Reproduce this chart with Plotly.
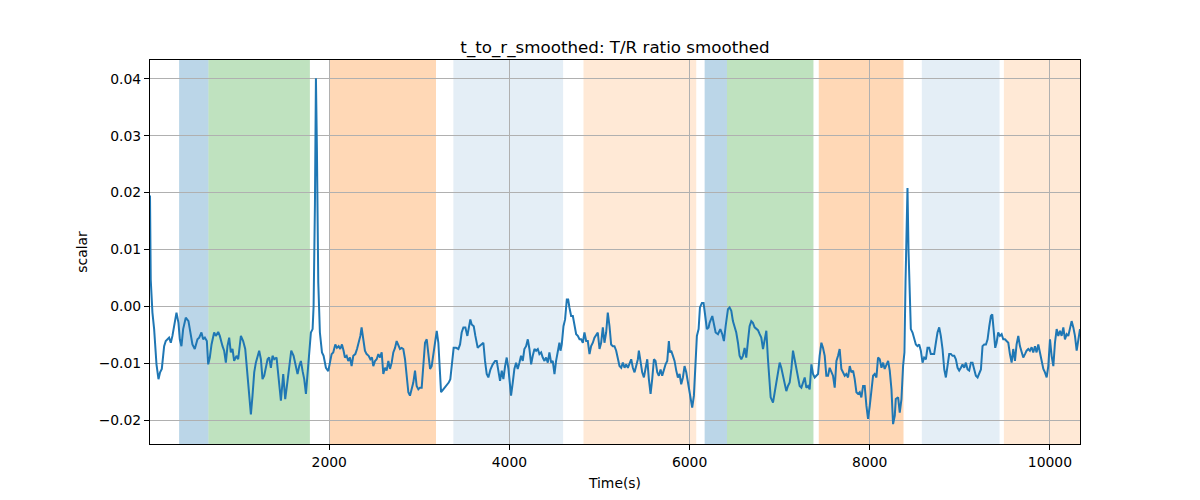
import plotly.graph_objects as go

time_s = [
    10, 18, 37, 56, 82, 104, 122, 141, 167, 185, 222, 241, 259, 278, 304, 326, 341, 359, 378, 407,
    437, 452, 481, 507, 537, 556, 581, 600, 619, 641, 656, 674, 693, 722, 741, 767, 785, 815, 833, 852,
    870, 889, 907, 926, 944, 970, 989, 1019, 1044, 1067, 1093, 1111, 1130, 1148, 1167, 1185, 1204, 1222, 1241, 1259,
    1278, 1296, 1315, 1333, 1352, 1370, 1389, 1415, 1437, 1463, 1489, 1511, 1530, 1556, 1578, 1604, 1630, 1648, 1667, 1685,
    1704, 1722, 1741, 1759, 1778, 1796, 1815, 1826, 1841, 1852, 1863, 1870, 1878, 1896,
    1919, 1937, 1963, 1989, 2007, 2026, 2044, 2067, 2085, 2104, 2122, 2141, 2159, 2174, 2193, 2211, 2230, 2248, 2267, 2289,
    2308, 2326, 2345, 2359, 2378, 2396, 2415, 2437, 2456, 2474, 2489, 2508, 2526, 2545, 2563, 2582, 2600, 2619, 2637, 2656,
    2674, 2693, 2711, 2730, 2748, 2767, 2785, 2804, 2822, 2841, 2859, 2878, 2896, 2915, 2933, 2952, 2970, 2989, 3007, 3026,
    3044, 3063, 3082, 3100, 3119, 3137, 3156, 3174, 3193, 3211,
    3241, 3266, 3296, 3326, 3344, 3363, 3381, 3407, 3433, 3452, 3470, 3489, 3511, 3533, 3552, 3566, 3581, 3604, 3622, 3648,
    3666, 3692, 3711, 3729, 3748, 3766, 3789, 3815, 3841, 3859, 3878, 3896, 3915, 3933, 3952, 3970, 3989, 4007, 4018, 4037,
    4055, 4074, 4092, 4111, 4129, 4148, 4166, 4185, 4204, 4222, 4241, 4259, 4278, 4296, 4315, 4333, 4352, 4370, 4389, 4407,
    4426, 4444, 4463, 4481, 4500, 4518, 4537, 4555, 4567, 4581, 4600, 4618, 4637, 4652, 4666, 4685, 4704, 4722, 4741, 4759,
    4778, 4796, 4815, 4833, 4852, 4870, 4889, 4907, 4926, 4944, 4963, 4981, 5000, 5018, 5037, 5055, 5074, 5092, 5111, 5129,
    5148, 5166, 5185, 5204, 5222, 5241, 5259, 5278, 5296, 5315, 5333, 5352, 5370, 5389, 5407, 5426, 5437, 5455, 5474, 5493,
    5511, 5530, 5548, 5567, 5585, 5604, 5622, 5641, 5659, 5678, 5696, 5715, 5733, 5752, 5770, 5781, 5796, 5815, 5833, 5852,
    5870, 5889, 5907, 5926, 5944, 5963, 5981, 6000, 6018, 6029, 6048, 6063, 6081, 6100, 6115, 6137, 6155, 6174, 6192, 6211,
    6222, 6252, 6270, 6289, 6315, 6341, 6363, 6381, 6400, 6426, 6444, 6463, 6481, 6500, 6518, 6537, 6555, 6574, 6592, 6611,
    6629, 6648, 6666, 6685, 6703, 6722, 6740, 6759, 6778, 6796, 6815, 6833, 6852, 6870, 6889, 6900, 6926, 6944, 6963, 6981,
    7000, 7018, 7037, 7055, 7074, 7092, 7111, 7130, 7148, 7166, 7185, 7204, 7222, 7241, 7259, 7278, 7296, 7315, 7333, 7352,
    7370, 7389, 7407, 7426, 7444, 7463, 7481, 7500, 7518, 7537, 7555, 7574, 7592, 7611, 7630, 7648, 7666, 7685, 7703, 7722,
    7740, 7759, 7778, 7796, 7815, 7833, 7852, 7870, 7889, 7907, 7926, 7944, 7963, 7981, 8000, 8018, 8037, 8055, 8074, 8092,
    8111, 8130, 8148, 8166, 8185, 8204, 8222, 8241, 8259, 8278, 8289, 8315, 8333, 8352, 8370, 8385, 8397, 8408, 8419, 8430,
    8445, 8456, 8475, 8493, 8512, 8530, 8549, 8567, 8586, 8604, 8623, 8641, 8660, 8678, 8697, 8715, 8734, 8752, 8771, 8789,
    8808, 8827, 8845, 8864, 8882, 8901, 8919, 8938, 8956, 8975, 8993, 9012, 9030, 9049, 9067, 9086, 9104, 9123, 9141, 9160,
    9178, 9197, 9215, 9234, 9252, 9271, 9290, 9308, 9327, 9345, 9360, 9382, 9393, 9408, 9426, 9445, 9464, 9482, 9501, 9519,
    9538, 9556, 9575, 9593, 9612, 9630, 9649, 9667, 9686, 9704, 9723, 9741, 9760, 9778, 9797, 9815, 9834, 9852, 9871, 9889,
    9908, 9927, 9945, 9964, 9982, 10001, 10019, 10038, 10056, 10075, 10093, 10112, 10130, 10149, 10167, 10186, 10204, 10223, 10241, 10260,
    10278, 10297, 10315, 10334,
]

tr_ratio = [
    0.0195, 0.0047, -0.0011, -0.0040, -0.0102, -0.0128, -0.0116, -0.0110, -0.0070, -0.0061, -0.0055, -0.0064, -0.0052, -0.0035, -0.0011, -0.0029, -0.0058, -0.0070, -0.0040, -0.0020,
    -0.0026, -0.0040, -0.0067, -0.0075, -0.0058, -0.0055, -0.0046, -0.0058, -0.0055, -0.0061, -0.0102, -0.0090, -0.0067, -0.0046, -0.0052, -0.0045, -0.0052, -0.0070, -0.0078, -0.0099,
    -0.0070, -0.0055, -0.0081, -0.0075, -0.0096, -0.0087, -0.0093, -0.0052, -0.0061, -0.0075, -0.0128, -0.0157, -0.0190, -0.0157, -0.0116, -0.0099, -0.0090, -0.0078, -0.0093, -0.0128,
    -0.0122, -0.0105, -0.0093, -0.0090, -0.0108, -0.0087, -0.0093, -0.0090, -0.0122, -0.0166, -0.0119, -0.0163, -0.0140, -0.0110, -0.0078, -0.0087, -0.0110, -0.0119, -0.0105, -0.0096,
    -0.0114, -0.0128, -0.0154, -0.0116, -0.0070, -0.0046, -0.0040, 0.0000, 0.0180, 0.0401, 0.0275, 0.0120, 0.0042, -0.0046,
    -0.0081, -0.0087, -0.0108, -0.0114, -0.0099, -0.0084, -0.0081, -0.0067, -0.0073, -0.0070, -0.0075, -0.0067, -0.0078, -0.0090, -0.0087, -0.0096, -0.0090, -0.0105, -0.0087, -0.0084,
    -0.0075, -0.0064, -0.0052, -0.0037, -0.0058, -0.0078, -0.0084, -0.0087, -0.0093, -0.0090, -0.0105, -0.0096, -0.0093, -0.0084, -0.0090, -0.0081, -0.0119, -0.0108, -0.0113, -0.0096,
    -0.0110, -0.0099, -0.0081, -0.0073, -0.0061, -0.0067, -0.0075, -0.0073, -0.0075, -0.0093, -0.0128, -0.0151, -0.0157, -0.0146, -0.0134, -0.0113, -0.0140, -0.0146, -0.0143, -0.0143,
    -0.0105, -0.0064, -0.0058, -0.0087, -0.0110, -0.0105, -0.0084, -0.0064, -0.0043, -0.0064,
    -0.0151, -0.0146, -0.0140, -0.0134, -0.0128, -0.0093, -0.0073, -0.0073, -0.0075, -0.0067, -0.0046, -0.0037, -0.0037, -0.0052, -0.0035, -0.0023, -0.0032, -0.0035, -0.0052, -0.0073,
    -0.0070, -0.0067, -0.0064, -0.0096, -0.0119, -0.0125, -0.0111, -0.0102, -0.0096, -0.0096, -0.0113, -0.0131, -0.0113, -0.0128, -0.0105, -0.0090, -0.0110, -0.0140, -0.0157, -0.0134,
    -0.0110, -0.0099, -0.0110, -0.0099, -0.0087, -0.0096, -0.0075, -0.0070, -0.0058, -0.0075, -0.0102, -0.0087, -0.0075, -0.0078, -0.0075, -0.0084, -0.0081, -0.0090, -0.0096, -0.0090,
    -0.0099, -0.0081, -0.0099, -0.0096, -0.0119, -0.0096, -0.0075, -0.0064, -0.0078, -0.0067, -0.0035, -0.0023, 0.0012, 0.0012, -0.0002, -0.0017, -0.0017, -0.0035, -0.0049, -0.0052,
    -0.0058, -0.0058, -0.0064, -0.0046, -0.0061, -0.0061, -0.0084, -0.0070, -0.0064, -0.0055, -0.0049, -0.0046, -0.0075, -0.0064, -0.0037, -0.0064, -0.0046, -0.0011, -0.0035, -0.0067,
    -0.0070, -0.0070, -0.0078, -0.0093, -0.0105, -0.0108, -0.0099, -0.0108, -0.0102, -0.0108, -0.0102, -0.0093, -0.0108, -0.0116, -0.0105, -0.0093, -0.0078, -0.0096, -0.0116, -0.0125,
    -0.0105, -0.0093, -0.0128, -0.0154, -0.0128, -0.0093, -0.0096, -0.0116, -0.0122, -0.0111, -0.0122, -0.0111, -0.0102, -0.0096, -0.0061, -0.0081, -0.0078, -0.0087, -0.0096, -0.0113,
    -0.0125, -0.0119, -0.0137, -0.0125, -0.0105, -0.0116, -0.0134, -0.0151, -0.0175, -0.0178, -0.0157, -0.0110, -0.0052, -0.0040, -0.0002, 0.0006, 0.0006, -0.0017, -0.0040, -0.0037,
    -0.0029, -0.0017, -0.0032, -0.0046, -0.0049, -0.0040, -0.0049, -0.0061, -0.0035, -0.0005, -0.0002, -0.0008, -0.0026, -0.0035, -0.0046, -0.0064, -0.0087, -0.0093, -0.0087, -0.0073,
    -0.0090, -0.0061, -0.0035, -0.0026, -0.0029, -0.0037, -0.0040, -0.0042, -0.0049, -0.0055, -0.0075, -0.0058, -0.0043, -0.0093, -0.0128, -0.0160, -0.0169, -0.0151, -0.0128, -0.0110,
    -0.0099, -0.0108, -0.0122, -0.0140, -0.0149, -0.0140, -0.0134, -0.0110, -0.0078, -0.0093, -0.0110, -0.0128, -0.0140, -0.0143, -0.0134, -0.0125, -0.0143, -0.0140, -0.0146, -0.0102,
    -0.0119, -0.0125, -0.0122, -0.0119, -0.0087, -0.0064, -0.0073, -0.0087, -0.0122, -0.0122, -0.0108, -0.0116, -0.0122, -0.0143, -0.0096, -0.0087, -0.0075, -0.0110, -0.0116, -0.0122,
    -0.0119, -0.0125, -0.0105, -0.0116, -0.0113, -0.0128, -0.0151, -0.0154, -0.0151, -0.0160, -0.0140, -0.0140, -0.0175, -0.0198, -0.0175, -0.0151, -0.0122, -0.0119, -0.0125, -0.0090,
    -0.0093, -0.0108, -0.0099, -0.0110, -0.0102, -0.0096, -0.0113, -0.0146, -0.0207, -0.0192, -0.0163, -0.0160, -0.0187, -0.0163, -0.0105, -0.0081, 0.0042, 0.0150, 0.0208, 0.0100,
    -0.0017, -0.0040, -0.0046, -0.0055, -0.0067, -0.0070, -0.0067, -0.0078, -0.0099, -0.0090, -0.0093, -0.0073, -0.0073, -0.0084, -0.0084, -0.0084, -0.0064, -0.0046, -0.0037, -0.0052,
    -0.0075, -0.0111, -0.0125, -0.0105, -0.0084, -0.0084, -0.0087, -0.0087, -0.0093, -0.0108, -0.0113, -0.0108, -0.0102, -0.0108, -0.0099, -0.0111, -0.0113, -0.0099, -0.0099, -0.0111,
    -0.0122, -0.0125, -0.0119, -0.0111, -0.0070, -0.0067, -0.0067, -0.0058, -0.0035, -0.0017, -0.0014, -0.0052, -0.0073, -0.0064, -0.0046, -0.0052, -0.0049, -0.0058, -0.0058, -0.0061,
    -0.0064, -0.0084, -0.0099, -0.0075, -0.0096, -0.0067, -0.0052, -0.0070, -0.0081, -0.0090, -0.0084, -0.0078, -0.0075, -0.0078, -0.0072, -0.0081, -0.0070, -0.0081, -0.0067, -0.0081,
    -0.0099, -0.0110, -0.0116, -0.0125, -0.0105, -0.0058, -0.0087, -0.0105, -0.0064, -0.0040, -0.0052, -0.0043, -0.0052, -0.0037, -0.0058, -0.0049, -0.0052, -0.0040, -0.0026, -0.0037,
    -0.0052, -0.0078, -0.0058, -0.0040,
]

# shaded phases: start, end (s), colour
span_start = [333, 659, 2007, 3378, 4822, 6167, 6415, 7434, 8578, 9489]
span_end = [659, 1785, 3185, 4596, 6074, 6415, 7375, 8375, 9441, 10334]
span_color = [
    "rgba(31,119,180,0.3)", "rgba(44,160,44,0.3)", "rgba(255,127,14,0.3)",
    "rgba(31,119,180,0.12)", "rgba(255,127,14,0.17)",
    "rgba(31,119,180,0.3)", "rgba(44,160,44,0.3)", "rgba(255,127,14,0.3)",
    "rgba(31,119,180,0.12)", "rgba(255,127,14,0.17)",
]

x_ticks = [2000, 4000, 6000, 8000, 10000]
y_ticks = [-0.02, -0.01, 0.00, 0.01, 0.02, 0.03, 0.04]

fig = go.Figure()
fig.add_trace(go.Scatter(x=time_s, y=tr_ratio, mode="lines",
                         line=dict(color="#1f77b4", width=2), showlegend=False))

for s, e, c in zip(span_start, span_end, span_color):
    fig.add_shape(type="rect", xref="x", yref="paper", x0=s, x1=e, y0=0, y1=1,
                  fillcolor=c, line=dict(width=0), layer="below")

font = "DejaVu Sans, Liberation Sans, sans-serif"
axis_common = dict(showline=True, linecolor="black", linewidth=1, mirror=True,
                   ticks="outside", ticklen=5, tickwidth=1, tickcolor="black",
                   showgrid=True, gridcolor="#b0b0b0", gridwidth=0.8, zeroline=False,
                   tickfont=dict(family=font, size=13.9, color="black"))

fig.update_layout(
    width=1192, height=492,
    margin=dict(l=142, r=120, t=52, b=52),
    paper_bgcolor="white", plot_bgcolor="white",
    title=dict(text="t_to_r_smoothed: T/R ratio smoothed", x=0.5, xref="paper",
               y=1 - 45 / 492, yref="container", yanchor="bottom",
               font=dict(family=font, size=16.7, color="black")),
    xaxis=dict(range=[time_s[0], time_s[-1]], tickvals=x_ticks, tickformat="d",
               title=dict(text="Time(s)", standoff=9, font=dict(family=font, size=13.9, color="black")),
               **axis_common),
    yaxis=dict(range=[-0.0242, 0.0433], tickvals=y_ticks, tickformat=".2f",
               title=dict(text="scalar", standoff=7, font=dict(family=font, size=13.9, color="black")),
               **axis_common),
)

fig.write_html("out.html")
